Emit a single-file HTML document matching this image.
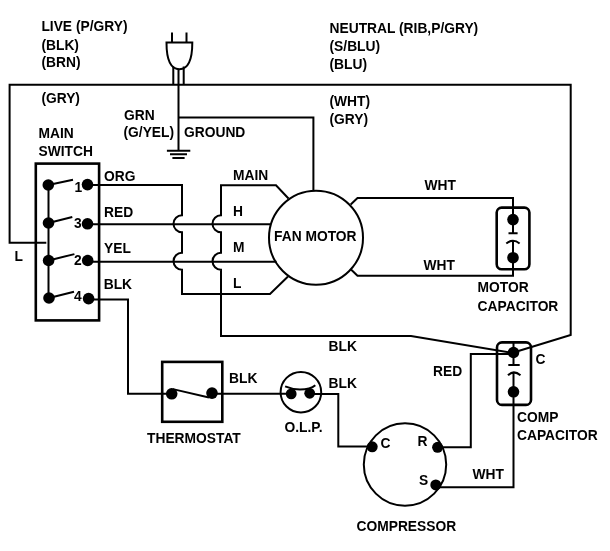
<!DOCTYPE html>
<html>
<head>
<meta charset="utf-8">
<style>
html,body{margin:0;padding:0;background:#fff;}
body{width:610px;height:551px;overflow:hidden;}
svg{display:block;will-change:transform;}
text{font-family:"Liberation Sans",sans-serif;font-weight:bold;font-size:13.8px;fill:#000;}
</style>
</head>
<body>
<svg width="610" height="551" viewBox="0 0 610 551">
<rect x="0" y="0" width="610" height="551" fill="#fff"/>
<g fill="none" stroke="#000" stroke-width="2" stroke-linejoin="miter" stroke-linecap="butt">
  <!-- big live/neutral loop -->
  <path d="M46.3 242.7 H9.6 V84.7 H570.7 V335 L513.5 352.5"/>
  <!-- plug cable -->
  <path d="M173.3 66.5 V84.7 M183.7 66.5 V84.7 M178.5 69 V150.5"/>
  <!-- ground line to motor -->
  <path d="M178.5 117.5 H313.4 V190.5"/>
  <!-- bus -->
  <path d="M48.5 185 V298"/>
  <!-- levers -->
  <path d="M48.3 185 L73 179.7 M48.5 223 L72.3 217 M48.6 260.5 L74.4 254.1 M49 298 L74 291.7"/>
  <!-- ORG wire with hops -->
  <path d="M87.5 185 H182 V215.2 A8.5 8.5 0 0 0 182 232.2 V252.8 A8.5 8.5 0 0 0 182 269.8 V294 H270 L288 276.5"/>
  <!-- RED & YEL -->
  <path d="M87.5 224.2 H270 M87.7 261.8 H276.5"/>
  <!-- MAIN / BLK wire with hops -->
  <path d="M288.5 198.5 L276 185.3 H221 V215.2 A8.5 8.5 0 0 0 221 232.2 V252.8 A8.5 8.5 0 0 0 221 269.8 V336 H411 L513.5 353"/>
  <!-- BLK from switch to thermostat -->
  <path d="M88.6 299.5 H128 V393.8 H172"/>
  <!-- thermostat to OLP to compressor C -->
  <path d="M212 393.7 H291 M309 393.9 H338.3 V446.6 H372"/>
  <!-- R wire -->
  <path d="M437 447.2 H470.8 V354 H513.5"/>
  <!-- S wire -->
  <path d="M436 487.3 H513.5 V392"/>
  <!-- motor capacitor wires -->
  <path d="M350.7 204.4 L357.5 198 H513 V233.2 M508.5 233.2 H517.6 M506.3 243.5 Q513 238 519.6 243.5 M513 241 V275.8 H357.5 L351 269.5"/>
  <!-- comp capacitor internals -->
  <path d="M513.5 342.5 V364.9 M508.3 364.9 H519.7 M508 375.3 Q513.5 369.5 520.5 375.3 M513.5 372.5 V392"/>
  <!-- thermostat lever -->
  <path d="M172.9 389.1 L209 397.5"/>
  <!-- OLP bimetal -->
  <path d="M285.1 386.4 C290 388.5 294 389.5 300 389.5 C306 389.5 311 389 315.3 385.2"/>
  <!-- ground symbol -->
  <path d="M166.9 150.8 H190.3 M170 154.3 H187 M172.4 157.9 H184.6"/>
  <!-- plug body -->
  <path d="M172 32.4 V42.5 M186.5 32.4 V42.5"/>
  <path d="M166.5 42.5 H192.3 C192.3 57 189.5 69.2 179.4 69.2 C169.3 69.2 166.5 57 166.5 42.5 Z"/>
</g>
<g fill="none" stroke="#000" stroke-width="2.6">
  <rect x="35.8" y="163.6" width="63.3" height="156.8"/>
  <rect x="162.2" y="361.9" width="60.1" height="59.9"/>
  <rect x="496.7" y="207.6" width="32.7" height="61.7" rx="5"/>
  <rect x="497" y="342.4" width="34" height="62.5" rx="5"/>
</g>
<g fill="none" stroke="#000" stroke-width="2">
  <circle cx="316" cy="237.7" r="47"/>
  <circle cx="300.9" cy="392.2" r="20.3"/>
  <circle cx="405" cy="464.5" r="41.2"/>
</g>
<g fill="#000">
  <circle cx="48.3" cy="185" r="5.8"/>
  <circle cx="48.5" cy="223" r="5.8"/>
  <circle cx="48.6" cy="260.5" r="5.8"/>
  <circle cx="49" cy="298" r="5.8"/>
  <circle cx="87.5" cy="184.6" r="5.8"/>
  <circle cx="87.5" cy="223.8" r="5.8"/>
  <circle cx="87.7" cy="260.5" r="5.8"/>
  <circle cx="88.6" cy="298.6" r="5.8"/>
  <circle cx="171.7" cy="393.8" r="5.8"/>
  <circle cx="212" cy="393.1" r="5.8"/>
  <circle cx="291.2" cy="393.9" r="5.4"/>
  <circle cx="309.7" cy="393.3" r="5.4"/>
  <circle cx="372.2" cy="446.8" r="5.5"/>
  <circle cx="437.6" cy="447.3" r="5.5"/>
  <circle cx="435.8" cy="484.9" r="5.5"/>
  <circle cx="513" cy="219.6" r="5.8"/>
  <circle cx="513" cy="257.7" r="5.8"/>
  <circle cx="513.5" cy="352.5" r="5.8"/>
  <circle cx="513.5" cy="391.8" r="5.8"/>
</g>
<g>
  <text x="41.4" y="30.9">LIVE (P/GRY)</text>
  <text x="41.4" y="49.5">(BLK)</text>
  <text x="41.4" y="67.3">(BRN)</text>
  <text x="41.4" y="102.8">(GRY)</text>
  <text x="124" y="119.8">GRN</text>
  <text x="123.5" y="137.4">(G/YEL)</text>
  <text x="184" y="137">GROUND</text>
  <text x="38.5" y="138.3">MAIN</text>
  <text x="38.5" y="156">SWITCH</text>
  <text x="74.4" y="192.1">1</text>
  <text x="74" y="228.4">3</text>
  <text x="74" y="264.5">2</text>
  <text x="74" y="300.8">4</text>
  <text x="14.5" y="260.9">L</text>
  <text x="104" y="181.2">ORG</text>
  <text x="104" y="216.6">RED</text>
  <text x="104" y="252.6">YEL</text>
  <text x="103.7" y="288.8">BLK</text>
  <text x="233" y="180.4">MAIN</text>
  <text x="233" y="215.8">H</text>
  <text x="233" y="252">M</text>
  <text x="233" y="287.9">L</text>
  <text x="274" y="241.3">FAN MOTOR</text>
  <text x="329.5" y="33.1">NEUTRAL (RIB,P/GRY)</text>
  <text x="329.5" y="51.2">(S/BLU)</text>
  <text x="329.5" y="69">(BLU)</text>
  <text x="329.5" y="105.7">(WHT)</text>
  <text x="329.5" y="123.6">(GRY)</text>
  <text x="424.4" y="190.1">WHT</text>
  <text x="423.5" y="269.6">WHT</text>
  <text x="477.6" y="292">MOTOR</text>
  <text x="477.6" y="310.6">CAPACITOR</text>
  <text x="328.5" y="351.4">BLK</text>
  <text x="535.5" y="364.1">C</text>
  <text x="433" y="376.2">RED</text>
  <text x="517" y="421.8">COMP</text>
  <text x="517" y="439.6">CAPACITOR</text>
  <text x="229" y="383.4">BLK</text>
  <text x="147" y="442.6">THERMOSTAT</text>
  <text x="328.5" y="387.5">BLK</text>
  <text x="284.5" y="431.7">O.L.P.</text>
  <text x="380.5" y="447.6">C</text>
  <text x="417.5" y="445.5">R</text>
  <text x="419" y="485.2">S</text>
  <text x="472.5" y="479.1">WHT</text>
  <text x="356.5" y="530.7">COMPRESSOR</text>
</g>
</svg>
</body>
</html>
